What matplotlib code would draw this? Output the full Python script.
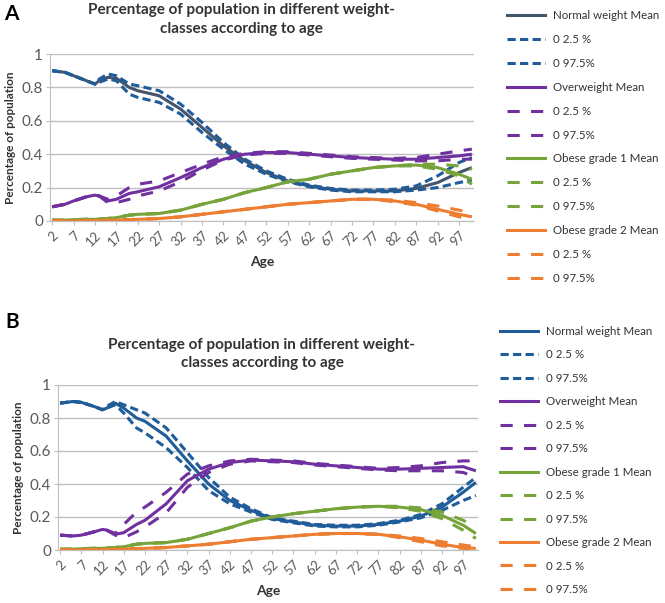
import matplotlib
matplotlib.use("Agg")
import matplotlib.pyplot as plt
from matplotlib.lines import Line2D

plt.rcParams["font.family"] = ["Lato", "DejaVu Sans"]

ages = [2, 5, 7, 10, 12, 13, 15, 17, 20, 22, 27, 32, 37, 42, 47, 52, 57, 62, 67, 72, 77, 82, 87, 92, 97, 100]
tick_ages = list(range(2, 98, 5))

# ---- panel A ----
a_normal_mean = [0.90, 0.89, 0.87, 0.84, 0.82, 0.84, 0.86, 0.855, 0.80, 0.78, 0.75, 0.67, 0.56, 0.45, 0.36, 0.29, 0.24, 0.21, 0.19, 0.18, 0.18, 0.18, 0.195, 0.23, 0.29, 0.32]
a_normal_lo = [0.90, 0.89, 0.87, 0.84, 0.82, 0.83, 0.85, 0.84, 0.76, 0.74, 0.71, 0.64, 0.53, 0.43, 0.34, 0.28, 0.235, 0.205, 0.185, 0.175, 0.175, 0.175, 0.185, 0.20, 0.23, 0.245]
a_normal_hi = [0.90, 0.89, 0.87, 0.84, 0.82, 0.85, 0.88, 0.87, 0.82, 0.81, 0.78, 0.70, 0.59, 0.47, 0.37, 0.30, 0.25, 0.215, 0.195, 0.185, 0.185, 0.19, 0.21, 0.27, 0.35, 0.38]

a_over_mean = [0.085, 0.10, 0.12, 0.145, 0.155, 0.15, 0.12, 0.13, 0.165, 0.175, 0.205, 0.26, 0.32, 0.37, 0.40, 0.41, 0.41, 0.40, 0.39, 0.38, 0.375, 0.37, 0.37, 0.38, 0.39, 0.40]
a_over_lo = [0.085, 0.10, 0.12, 0.145, 0.155, 0.15, 0.11, 0.11, 0.13, 0.15, 0.18, 0.235, 0.305, 0.365, 0.395, 0.405, 0.405, 0.395, 0.385, 0.375, 0.37, 0.365, 0.36, 0.36, 0.37, 0.37]
a_over_hi = [0.085, 0.10, 0.12, 0.145, 0.155, 0.15, 0.13, 0.15, 0.20, 0.22, 0.24, 0.29, 0.34, 0.385, 0.405, 0.415, 0.415, 0.405, 0.395, 0.385, 0.38, 0.375, 0.38, 0.40, 0.42, 0.43]

a_ob1_mean = [0.005, 0.005, 0.008, 0.01, 0.01, 0.012, 0.015, 0.02, 0.035, 0.04, 0.045, 0.065, 0.10, 0.13, 0.17, 0.20, 0.235, 0.25, 0.28, 0.30, 0.32, 0.33, 0.335, 0.32, 0.28, 0.25]
a_ob1_lo = [0.005, 0.005, 0.008, 0.01, 0.01, 0.012, 0.015, 0.02, 0.035, 0.04, 0.045, 0.065, 0.10, 0.13, 0.17, 0.20, 0.235, 0.25, 0.28, 0.30, 0.32, 0.33, 0.33, 0.31, 0.27, 0.22]
a_ob1_hi = [0.005, 0.005, 0.008, 0.01, 0.01, 0.012, 0.015, 0.02, 0.035, 0.04, 0.045, 0.065, 0.10, 0.13, 0.17, 0.20, 0.235, 0.25, 0.28, 0.30, 0.32, 0.33, 0.34, 0.34, 0.33, 0.31]

a_ob2_mean = [0.0, 0.0, 0.0, 0.002, 0.003, 0.003, 0.004, 0.005, 0.008, 0.01, 0.015, 0.025, 0.04, 0.055, 0.07, 0.085, 0.10, 0.11, 0.12, 0.13, 0.13, 0.12, 0.10, 0.07, 0.04, 0.025]
a_ob2_lo = [0.0, 0.0, 0.0, 0.002, 0.003, 0.003, 0.004, 0.005, 0.008, 0.01, 0.015, 0.025, 0.04, 0.055, 0.07, 0.085, 0.10, 0.11, 0.12, 0.13, 0.13, 0.115, 0.095, 0.06, 0.025, 0.01]
a_ob2_hi = [0.0, 0.0, 0.0, 0.002, 0.003, 0.003, 0.004, 0.005, 0.008, 0.01, 0.015, 0.025, 0.04, 0.055, 0.07, 0.085, 0.10, 0.11, 0.12, 0.13, 0.13, 0.125, 0.11, 0.09, 0.065, 0.05]

# ---- panel B ----
b_normal_mean = [0.89, 0.90, 0.895, 0.87, 0.85, 0.86, 0.89, 0.86, 0.80, 0.78, 0.69, 0.54, 0.40, 0.30, 0.24, 0.19, 0.17, 0.15, 0.145, 0.145, 0.155, 0.175, 0.205, 0.26, 0.35, 0.41]
b_normal_lo = [0.89, 0.90, 0.895, 0.87, 0.85, 0.86, 0.88, 0.83, 0.74, 0.71, 0.62, 0.50, 0.36, 0.28, 0.23, 0.185, 0.165, 0.145, 0.14, 0.14, 0.15, 0.17, 0.195, 0.24, 0.30, 0.33]
b_normal_hi = [0.89, 0.90, 0.895, 0.87, 0.85, 0.87, 0.90, 0.88, 0.85, 0.83, 0.74, 0.59, 0.44, 0.32, 0.25, 0.195, 0.175, 0.155, 0.15, 0.15, 0.16, 0.18, 0.215, 0.28, 0.38, 0.44]

b_over_mean = [0.09, 0.085, 0.09, 0.11, 0.125, 0.12, 0.095, 0.105, 0.155, 0.18, 0.28, 0.42, 0.49, 0.53, 0.545, 0.54, 0.535, 0.52, 0.51, 0.50, 0.49, 0.49, 0.495, 0.50, 0.505, 0.48]
b_over_lo = [0.09, 0.085, 0.09, 0.11, 0.125, 0.12, 0.09, 0.075, 0.11, 0.14, 0.225, 0.38, 0.47, 0.52, 0.54, 0.535, 0.53, 0.515, 0.505, 0.495, 0.485, 0.48, 0.48, 0.48, 0.47, 0.44]
b_over_hi = [0.09, 0.085, 0.09, 0.11, 0.125, 0.12, 0.10, 0.155, 0.23, 0.26, 0.35, 0.46, 0.51, 0.54, 0.55, 0.545, 0.54, 0.525, 0.515, 0.505, 0.495, 0.50, 0.51, 0.53, 0.54, 0.54]

b_ob1_mean = [0.005, 0.005, 0.008, 0.01, 0.01, 0.012, 0.015, 0.02, 0.035, 0.04, 0.045, 0.065, 0.10, 0.135, 0.175, 0.20, 0.22, 0.235, 0.25, 0.26, 0.265, 0.26, 0.245, 0.21, 0.15, 0.10]
b_ob1_lo = [0.005, 0.005, 0.008, 0.01, 0.01, 0.012, 0.015, 0.02, 0.035, 0.04, 0.045, 0.065, 0.10, 0.135, 0.175, 0.20, 0.22, 0.235, 0.25, 0.26, 0.265, 0.255, 0.235, 0.19, 0.12, 0.07]
b_ob1_hi = [0.005, 0.005, 0.008, 0.01, 0.01, 0.012, 0.015, 0.02, 0.035, 0.04, 0.045, 0.065, 0.10, 0.135, 0.175, 0.20, 0.22, 0.235, 0.25, 0.26, 0.265, 0.265, 0.255, 0.23, 0.18, 0.14]

b_ob2_mean = [0.0, 0.0, 0.0, 0.002, 0.003, 0.003, 0.004, 0.005, 0.008, 0.01, 0.015, 0.025, 0.035, 0.05, 0.065, 0.075, 0.085, 0.095, 0.10, 0.10, 0.095, 0.08, 0.06, 0.035, 0.015, 0.01]
b_ob2_lo = [0.0, 0.0, 0.0, 0.002, 0.003, 0.003, 0.004, 0.005, 0.008, 0.01, 0.015, 0.025, 0.035, 0.05, 0.065, 0.075, 0.085, 0.095, 0.10, 0.10, 0.095, 0.075, 0.05, 0.025, 0.01, 0.005]
b_ob2_hi = [0.0, 0.0, 0.0, 0.002, 0.003, 0.003, 0.004, 0.005, 0.008, 0.01, 0.015, 0.025, 0.035, 0.05, 0.065, 0.075, 0.085, 0.095, 0.10, 0.10, 0.095, 0.085, 0.07, 0.05, 0.03, 0.02]

class_names = ["Normal weight", "Overweight", "Obese grade 1", "Obese grade 2"]
mean_colors = ["#44546A", "#7030A0", "#77A33B", "#ED7D31"]
ci_colors = ["#1F5C99", "#7030A0", "#77A33B", "#ED7D31"]
ci_dashes = [(2.7, 1.4), (4.0, 3.7), (4.0, 3.7), (4.0, 3.7)]

title = "Percentage of population in different weight-\nclasses according to age"
text_col = "#333333"
tick_col = "#595959"
grid_col = "#BFBFBF"
LW = 2.2


def draw_panel(ax, groups, mean_cols):
    handles = []
    labels = []
    for i, (mean, lo, hi) in enumerate(groups):
        ax.plot(ages, mean, color=mean_cols[i], lw=LW, solid_capstyle="butt")
        ax.plot(ages, lo, color=ci_colors[i], lw=LW, dashes=ci_dashes[i])
        ax.plot(ages, hi, color=ci_colors[i], lw=LW, dashes=ci_dashes[i])
        handles.append(Line2D([], [], color=mean_cols[i], lw=LW))
        handles.append(Line2D([], [], color=ci_colors[i], lw=LW, dashes=ci_dashes[i]))
        handles.append(Line2D([], [], color=ci_colors[i], lw=LW, dashes=ci_dashes[i]))
        labels += [class_names[i] + " Mean", "0 2.5 %", "0 97.5%"]

    ax.set_xlim(1.5, 100.5)
    ax.set_ylim(0, 1)
    ax.set_yticks([0, 0.2, 0.4, 0.6, 0.8, 1])
    ax.set_yticklabels(["0", "0.2", "0.4", "0.6", "0.8", "1"])
    ax.set_xticks(tick_ages)
    ax.set_xticklabels([str(a) for a in tick_ages], rotation=45, ha="right",
                       rotation_mode="anchor")
    ax.tick_params(axis="y", labelsize=11, colors=grid_col, labelcolor=tick_col,
                   length=3, pad=2)
    ax.tick_params(axis="x", labelsize=9.5, colors=grid_col, labelcolor=tick_col,
                   length=3, pad=3)
    ax.grid(axis="y", color=grid_col, lw=1)
    ax.set_axisbelow(True)
    for side in ["top", "right"]:
        ax.spines[side].set_visible(False)
    ax.spines["left"].set_color(grid_col)
    ax.spines["bottom"].set_color(grid_col)
    ax.set_ylabel("Percentage of population", fontsize=8.5, fontweight="bold",
                  color=text_col, labelpad=4)
    ax.set_xlabel("Age", fontsize=10, fontweight="bold", color=text_col, labelpad=5)
    return handles, labels


fig = plt.figure(figsize=(6.65, 6.03), dpi=100)
W, H = 665, 603

ax_a = fig.add_axes([50 / W, 1 - 221 / H, 424 / W, 167 / H])
ax_b = fig.add_axes([58 / W, 1 - 550 / H, 420 / W, 165 / H])

groups_a = [(a_normal_mean, a_normal_lo, a_normal_hi), (a_over_mean, a_over_lo, a_over_hi),
            (a_ob1_mean, a_ob1_lo, a_ob1_hi), (a_ob2_mean, a_ob2_lo, a_ob2_hi)]
groups_b = [(b_normal_mean, b_normal_lo, b_normal_hi), (b_over_mean, b_over_lo, b_over_hi),
            (b_ob1_mean, b_ob1_lo, b_ob1_hi), (b_ob2_mean, b_ob2_lo, b_ob2_hi)]

h, l = draw_panel(ax_a, groups_a, mean_colors)
fig.legend(h, l, loc="upper left", bbox_to_anchor=(507 / W, 1 - 10 / H), frameon=False,
           fontsize=8.3, labelspacing=1.12, handlelength=3.3, handletextpad=0.7,
           borderpad=0, borderaxespad=0, labelcolor=text_col)

h, l = draw_panel(ax_b, groups_b, ["#1F5C99"] + mean_colors[1:])
fig.legend(h, l, loc="upper left", bbox_to_anchor=(500 / W, 1 - 326 / H), frameon=False,
           fontsize=8.3, labelspacing=1.08, handlelength=3.3, handletextpad=0.7,
           borderpad=0, borderaxespad=0, labelcolor=text_col)

fig.text(241 / W, 1 - 19.5 / H, title, ha="center", va="center", fontsize=11,
         fontweight="bold", color=text_col, linespacing=1.4)
fig.text(262 / W, 1 - 354 / H, title, ha="center", va="center", fontsize=11,
         fontweight="bold", color=text_col, linespacing=1.4)

fig.text(4 / W, 1 - 14 / H, "A", ha="left", va="center", fontsize=15, fontweight="bold")
fig.text(5 / W, 1 - 322 / H, "B", ha="left", va="center", fontsize=15, fontweight="bold")

fig.savefig("out.png", dpi=100)
